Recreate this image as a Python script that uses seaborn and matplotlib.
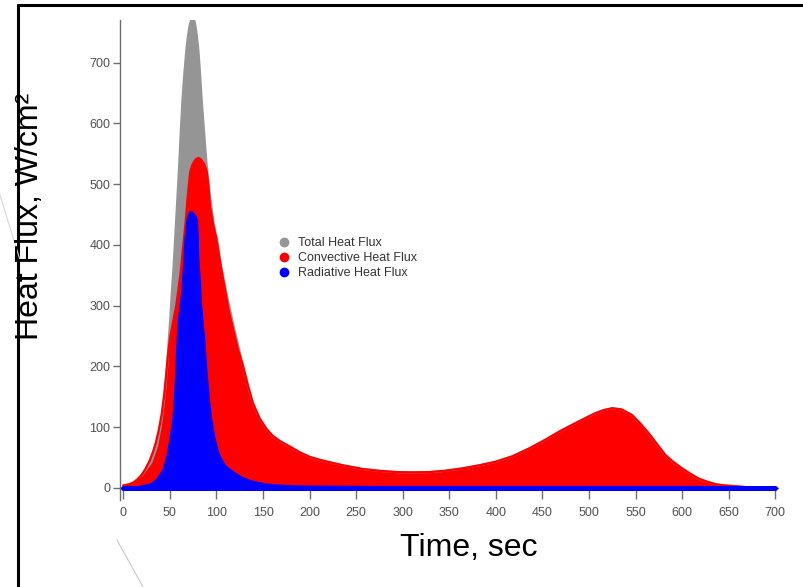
import numpy as np
import pandas as pd
import matplotlib
matplotlib.use("Agg")
import matplotlib.pyplot as plt
import seaborn as sns
from matplotlib.lines import Line2D

# ---------------- data ----------------
total_t = [0, 10, 20, 30, 36, 40, 43, 45, 47, 48.8, 50.5, 52, 54, 55.6, 57.8, 60, 61.8, 63.6,
           65.7, 67.8, 69.5, 71, 72.8, 74.3, 75.8, 77, 78.8, 80.4, 82.2, 84, 86.7, 89.4, 91.2,
           93, 97, 101, 105, 111, 119, 124, 128.6, 134, 139, 146, 153.6, 160, 168, 178.6,
           190, 200, 211, 222, 236, 257, 275, 293, 310, 329, 345, 364, 382, 400, 418, 436,
           453, 471, 490, 507, 516, 525, 535, 546, 555, 564, 573, 582, 591, 600, 609, 618,
           627, 636, 645, 654, 670, 685, 700]
total_v = [4, 8, 21, 42, 68, 100, 135, 165, 200, 244, 280, 320, 365, 409, 470, 531, 590, 641,
           685, 723, 745, 760, 770, 774, 771, 764, 745, 723, 685, 641, 585, 531, 505,
           480, 435, 405, 365, 318, 262, 230, 200, 167, 140, 115, 97, 86, 77, 68,
           58, 51, 46, 42, 37, 31, 28, 26, 25.5, 26, 28, 32, 37, 43, 52, 65,
           79, 95, 110, 123, 128, 131, 129, 120, 106, 90, 72, 54, 42, 32, 23, 15,
           10, 6, 4, 3, 1, 0.5, 0]

conv_t = [0, 5, 10, 15, 20, 24, 28, 32, 35, 38, 41, 44, 46.4, 48, 50, 53, 56.7, 59, 61.6, 64,
          66.9, 69, 71.8, 74, 76, 78, 80.7, 83, 85, 87, 89.6, 91.5, 93, 96, 100, 104, 109, 113,
          118, 123, 128.6, 134, 139, 146, 153.6, 160, 168, 178.6, 190, 200, 211, 222, 236,
          257, 275, 293, 310, 329, 345, 364, 382, 400, 418, 436, 453, 471, 490, 507, 516,
          525, 535, 546, 555, 564, 573, 582, 591, 600, 609, 618, 627, 636, 645, 654, 670,
          685, 700]
conv_v = [4, 5, 8, 13, 22, 32, 44, 60, 75, 95, 120, 155, 194, 220, 245, 270, 299, 325, 355, 393,
          437, 478, 520, 531, 537, 541, 543, 541, 537, 532, 520, 495, 464, 436, 409, 370, 327, 293,
          260, 228, 200, 167, 140, 115, 97, 86, 77, 68, 58, 51, 46, 42, 37,
          31, 28, 26, 25.5, 26, 28, 32, 37, 43, 52, 65, 79, 95, 110, 123, 128,
          131, 129, 120, 106, 90, 72, 54, 42, 32, 23, 15, 10, 6, 4, 3, 1,
          0.5, 0]

rad_t = [0, 15, 28.6, 36, 43, 47, 50, 53.6, 55.5, 57, 58.5, 60, 62, 63.6, 65.3, 66.8, 68, 69.5,
         71.4, 73, 75, 77, 79, 79.8, 80.3, 82, 83.6, 85.2, 86.8, 88, 89, 91.5, 94.3, 98, 102,
         106, 110, 115, 119.6, 127, 135, 145, 155, 175, 200, 250, 300, 500, 700]
rad_v = [0, 1, 5, 13, 29, 50, 75, 112, 150, 200, 250, 280, 305, 327, 370, 409, 430, 445,
         453, 454, 451, 448, 442, 415, 382, 340, 299, 270, 244, 218, 194, 150, 112, 80, 57,
         44, 35, 29, 24, 17, 12, 8, 5, 3, 2, 1.5, 1, 0.5, 0]

series_names = ["Total Heat Flux", "Convective Heat Flux", "Radiative Heat Flux"]
series_colors = ["#959595", "#ff0000", "#0000ff"]
x_ticks = list(range(0, 701, 50))
y_ticks = list(range(0, 701, 100))

# ---------------- figure ----------------
sns.set_theme(style="white")
plt.rcParams['font.family'] = ['Liberation Sans', 'DejaVu Sans']

W, H = 804, 587
fig = plt.figure(figsize=(W / 100, H / 100), dpi=100)
ax = fig.add_axes([120 / W, 1 - 500 / H, (778 - 120) / W, (500 - 20) / H])

data = [(total_t, total_v), (conv_t, conv_v), (rad_t, rad_v)]
for (t, v), name, col in zip(data, series_names, series_colors):
    df = pd.DataFrame({"t": t, "v": v})
    ax.fill_between(df["t"], 0, df["v"], color=col, linewidth=0, zorder=2)
    sns.lineplot(data=df, x="t", y="v", ax=ax, color=col, linewidth=1.6, zorder=3,
                 legend=False)

# thick blue band of the radiative points near zero
ax.plot([rad_t[0], rad_t[-1]], [0, 0], color=series_colors[2], linewidth=3.6,
        solid_capstyle="round", zorder=4)

ax.set_xlim(-3.6, 703)
ax.set_ylim(-20, 770)
ax.set_xticks(x_ticks)
ax.set_yticks(y_ticks)
ax.set_xlabel("")
ax.set_ylabel("")

for s in ["top", "right"]:
    ax.spines[s].set_visible(False)
ax.spines["left"].set_color("#6e6e6e")
ax.spines["left"].set_linewidth(1.0)
ax.spines["bottom"].set_position(("data", 0))
ax.spines["bottom"].set_color("#6e6e6e")
ax.spines["bottom"].set_linewidth(1.0)
ax.spines["bottom"].set_zorder(1)

ax.tick_params(axis="both", which="major", direction="out", length=5, width=1.0,
               color="#6e6e6e", labelcolor="#505050", labelsize=9, pad=2)
ax.tick_params(axis="x", length=8, pad=6)
ax.tick_params(axis="x", bottom=True)
ax.tick_params(axis="y", left=True)
ax.patch.set_alpha(0)

# legend
handles = [Line2D([0], [0], marker="o", linestyle="none", markersize=6,
                  markerfacecolor=c, markeredgecolor=c) for c in series_colors]
fig.legend(handles, series_names, loc="upper left",
           bbox_to_anchor=(278 / W, 1 - 237 / H), frameon=False,
           fontsize=9, labelcolor="#333333", handletextpad=0.6,
           labelspacing=0.25, handlelength=1.0, borderaxespad=0, borderpad=0)

# axis titles
fig.text(30 / W, 1 - 216 / H, "Heat Flux, W/cm²", rotation=90, ha="center",
         va="center", fontsize=23, color="black")
fig.text(469 / W, 1 - 548 / H, "Time, sec", ha="center", va="center",
         fontsize=23, color="black")

# slide frame and decorative lines
fig.add_artist(Line2D([18 / W, 18 / W], [1 - 4.5 / H, 0], transform=fig.transFigure,
                      color="black", linewidth=2.2))
fig.add_artist(Line2D([18 / W, 1.0], [1 - 4.5 / H, 1 - 4.5 / H], transform=fig.transFigure,
                      color="black", linewidth=2.2))
fig.add_artist(Line2D([0, 20 / W], [1 - 195 / H, 1 - 260 / H], transform=fig.transFigure,
                      color="#d8d8d8", linewidth=0.8))
fig.add_artist(Line2D([117 / W, 143 / W], [1 - 540 / H, 0], transform=fig.transFigure,
                      color="#c8c8c8", linewidth=0.8))

fig.savefig("out.png", dpi=100)
